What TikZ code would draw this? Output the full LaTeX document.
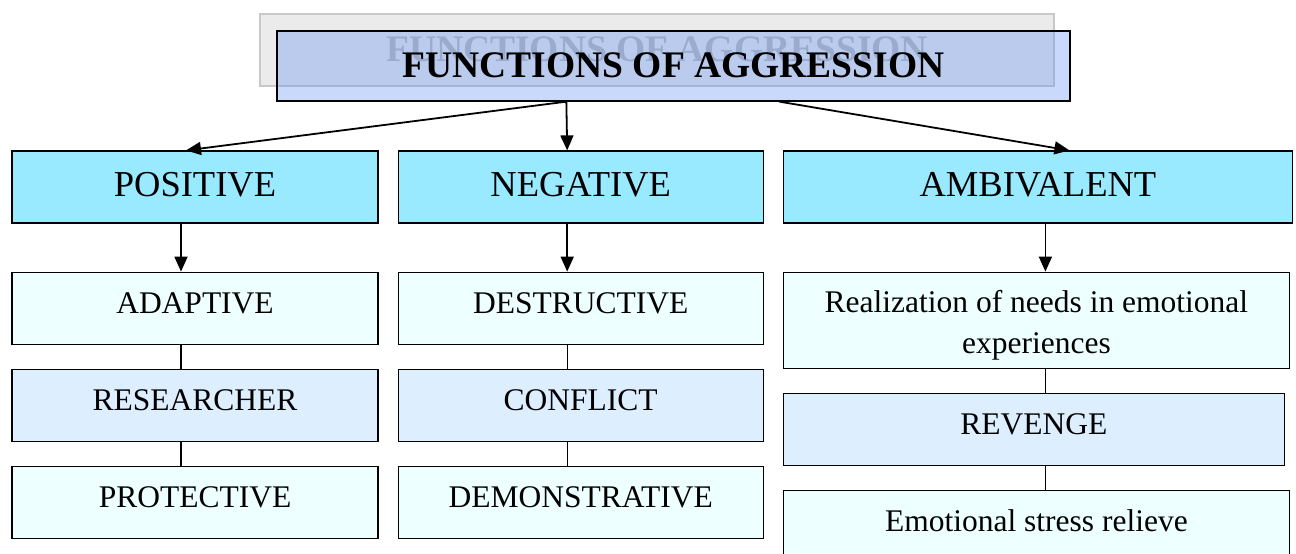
\documentclass[tikz,border=0pt]{standalone}
\usepackage{fontspec}
\setmainfont{Liberation Serif}
\usetikzlibrary{arrows.meta,positioning}
\definecolor{headblue}{RGB}{100,146,243}
\definecolor{shadowgray}{RGB}{235,235,235}
\definecolor{shadowline}{RGB}{200,200,200}
\definecolor{shadowtext}{RGB}{185,185,185}
\definecolor{kindcyan}{RGB}{153,233,255}
\definecolor{palecyan}{RGB}{238,255,255}
\definecolor{paleblue}{RGB}{221,238,255}

\begin{document}
\begin{tikzpicture}[x=1pt, y=1pt, node distance=24pt,
        shadowbox/.style={rectangle, draw=shadowline, line width=1.5pt, fill=shadowgray, minimum width=794pt, minimum height=72pt, inner sep=0pt, text=shadowtext, font=\fontsize{37.5}{45}\selectfont\bfseries, text height=28pt, text depth=4pt},
        headbox/.style={rectangle, draw, line width=1.3pt, fill=headblue, fill opacity=0.35, text opacity=1, minimum width=793pt, minimum height=70pt, inner sep=0pt, font=\fontsize{37.5}{45}\selectfont\bfseries, text height=28pt, text depth=4pt},
        kindbox/.style={rectangle, draw, line width=1.2pt, fill=kindcyan, minimum height=72pt, inner sep=0pt, font=\fontsize{36.5}{44}\selectfont, text height=26pt, text depth=6pt},
        funcbox/.style={rectangle, draw, line width=1.2pt, fill=palecyan, minimum width=366pt, minimum height=72pt, inner sep=0pt, font=\fontsize{31.5}{41}\selectfont, text height=22pt, text depth=12pt},
        funcboxalt/.style={funcbox, fill=paleblue},
        arrow/.style={-{Triangle[length=15pt,width=13pt]}, line width=1.8pt},
        link/.style={line width=1.2pt}]

        \useasboundingbox (0,0) rectangle (1296,554);

        % Title (with its shadow)
        \node[shadowbox] (shadow) at (657,504) {FUNCTIONS OF AGGRESSION};
        \node[headbox] (title) at (673.5,488) {FUNCTIONS OF AGGRESSION};

        % Kinds of function
        \node[kindbox, minimum width=366pt] (positive) at (195,367) {POSITIVE};
        \node[kindbox, minimum width=365pt, right=19pt of positive] (negative) {NEGATIVE};
        \node[kindbox, minimum width=509pt, right=19pt of negative] (ambivalent) {AMBIVALENT};

        % Positive functions
        \node[funcbox, below=48pt of positive] (adaptive) {ADAPTIVE};
        \node[funcboxalt, below=of adaptive] (researcher) {RESEARCHER};
        \node[funcbox, below=of researcher] (protective) {PROTECTIVE};

        % Negative functions
        \node[funcbox, minimum width=365pt, below=48pt of negative] (destructive) {DESTRUCTIVE};
        \node[funcboxalt, minimum width=365pt, below=of destructive] (conflict) {CONFLICT};
        \node[funcbox, minimum width=365pt, below=of conflict] (demonstrative) {DEMONSTRATIVE};

        % Ambivalent functions
        \node[funcbox, minimum width=506pt, minimum height=96pt, text height=, text depth=, align=center, below right=48pt and 0pt of ambivalent.south west] (realization) {\rule{0pt}{32pt}Realization of needs in emotional\\experiences};
        \node[funcboxalt, minimum width=501pt, below right=24pt and 0pt of realization.south west] (revenge) {REVENGE};
        \node[funcbox, minimum width=506pt, below right=24pt and 0pt of revenge.south west] (relief) {Emotional stress relieve};

        % Arrows from the title
        \draw[arrow] ([xshift=290pt]title.south west) -- ([xshift=-9pt]positive.north);
        \draw[arrow] ([xshift=290pt]title.south west) -- ([xshift=-13.5pt]negative.north);
        \draw[arrow] ([xshift=503pt]title.south west) -- ([xshift=31.5pt]ambivalent.north);

        % Columns
        \draw[arrow] ([xshift=-14pt]positive.south) -- ([xshift=-14pt]adaptive.north);
        \draw[link] ([xshift=-14pt]adaptive.south) -- ([xshift=-14pt]researcher.north);
        \draw[link] ([xshift=-14pt]researcher.south) -- ([xshift=-14pt]protective.north);
        \draw[arrow] ([xshift=-13.5pt]negative.south) -- ([xshift=-13.5pt]destructive.north);
        \draw[link] ([xshift=-13.5pt]destructive.south) -- ([xshift=-13.5pt]conflict.north);
        \draw[link] ([xshift=-13.5pt]conflict.south) -- ([xshift=-13.5pt]demonstrative.north);
        \draw[arrow] ([xshift=7.5pt]ambivalent.south) -- ([xshift=9pt]realization.north);
        \draw[link] ([xshift=9pt]realization.south) -- ([xshift=11.5pt]revenge.north);
        \draw[link] ([xshift=11.5pt]revenge.south) -- ([xshift=9pt]relief.north);
    \end{tikzpicture}
\end{document}
